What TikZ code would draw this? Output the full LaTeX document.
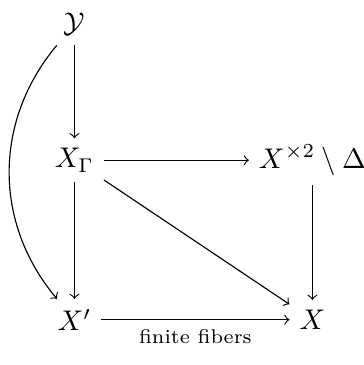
\documentclass[tikz,border=0pt]{standalone}
\usepackage{amsmath,amssymb,amsfonts}
\usepackage{tikz}

\begin{document}
\begin{tikzpicture}
	\useasboundingbox (0,0) rectangle (4.49,4.51);
	\node (Y) at (0.92,4.21) {$\mathcal{Y}$};
	\node (XG) at (0.92,2.53) {$X_\Gamma$};
	\node (XD) at (3.86,2.53) {$X^{\times 2}\setminus\Delta$};
	\node (Xp) at (0.92,0.56) {$X'$};
	\node (X) at (3.86,0.56) {$X$};
	\draw[->] (Y) -- (XG);
	\draw[->] (XG) -- (Xp);
	\draw[->] (XG) -- (XD);
	\draw[->] (XD) -- (X);
	\draw[->] (XG) -- (X);
	\draw[->] (Xp) -- node[below] {\scriptsize finite fibers} (X);
	\draw[->] (Y) to[bend right=40] (Xp);
\end{tikzpicture}
\end{document}
